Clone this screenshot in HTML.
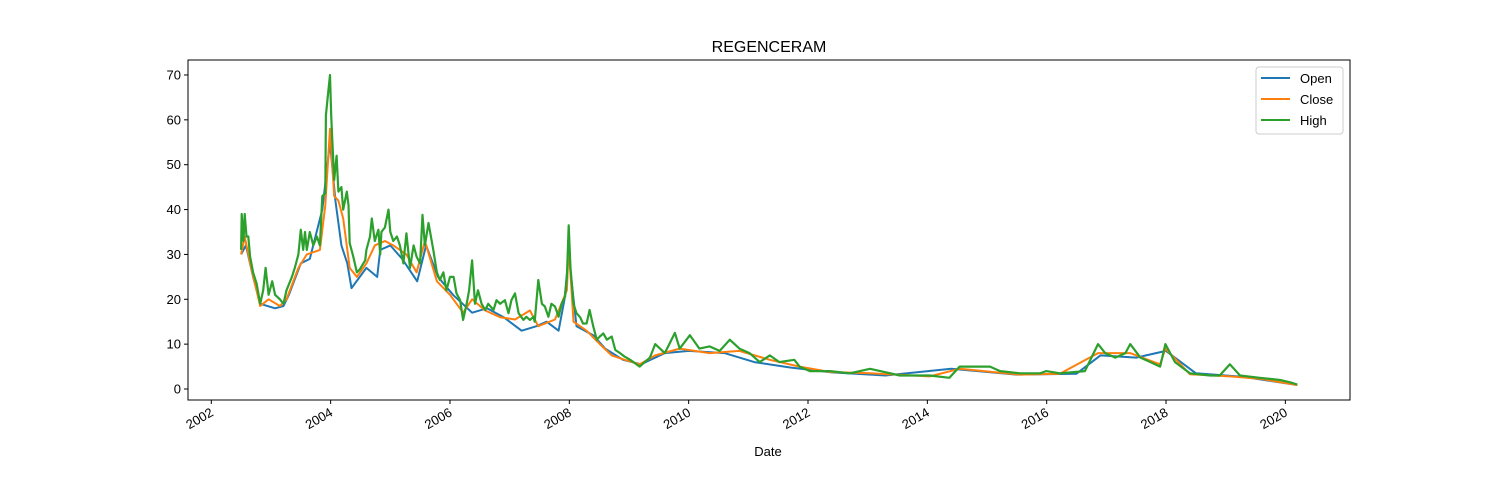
<!DOCTYPE html>
<html><head><meta charset="utf-8"><style>
html,body{margin:0;padding:0;background:#fff;}
svg{display:block;font-family:"Liberation Sans","DejaVu Sans",sans-serif;}
</style></head><body>
<svg id="chart" width="1500" height="500">
<text x="769" y="52" font-size="16" text-anchor="middle">REGENCERAM</text>
<text x="768" y="456" font-size="13" text-anchor="middle">Date</text>
<g id="plot"></g>
<rect x="188" y="60" width="1162" height="340" fill="none" stroke="#000" stroke-width="1"/>
<g>
<rect x="1256" y="67" width="87" height="67" rx="3" fill="#fff" stroke="#ccc" stroke-width="1"/>
<line x1="1261" y1="78" x2="1290" y2="78" stroke="#1f77b4" stroke-width="2"/>
<text x="1300" y="83" font-size="13">Open</text>
<line x1="1261" y1="99" x2="1290" y2="99" stroke="#ff7f0e" stroke-width="2"/>
<text x="1300" y="104" font-size="13">Close</text>
<line x1="1261" y1="120" x2="1290" y2="120" stroke="#2ca02c" stroke-width="2"/>
<text x="1300" y="125" font-size="13">High</text>
</g>
</svg>
<script>
const yTicks=[0,10,20,30,40,50,60,70];
const xTicks=[2002,2004,2006,2008,2010,2012,2014,2016,2018,2020];
const highDates=[2002.50,2002.51,2002.54,2002.56,2002.59,2002.62,2002.65,2002.70,2002.76,2002.82,2002.87,2002.91,2002.96,2003.02,2003.07,2003.15,2003.21,2003.26,2003.35,2003.40,2003.46,2003.50,2003.54,2003.57,2003.60,2003.65,2003.71,2003.77,2003.82,2003.86,2003.91,2003.92,2003.95,2003.99,2004.01,2004.03,2004.06,2004.10,2004.13,2004.18,2004.21,2004.27,2004.30,2004.32,2004.38,2004.44,2004.49,2004.58,2004.60,2004.66,2004.69,2004.74,2004.80,2004.83,2004.85,2004.91,2004.97,2005.00,2005.05,2005.11,2005.16,2005.22,2005.27,2005.33,2005.39,2005.44,2005.50,2005.54,2005.58,2005.64,2005.66,2005.72,2005.78,2005.83,2005.89,2005.94,2006.00,2006.06,2006.11,2006.17,2006.22,2006.28,2006.32,2006.37,2006.42,2006.47,2006.53,2006.59,2006.64,2006.73,2006.78,2006.84,2006.92,2006.98,2007.03,2007.09,2007.15,2007.23,2007.28,2007.34,2007.40,2007.42,2007.48,2007.54,2007.59,2007.65,2007.70,2007.76,2007.82,2007.87,2007.93,2007.96,2007.99,2008.02,2008.07,2008.12,2008.18,2008.23,2008.29,2008.34,2008.40,2008.46,2008.51,2008.57,2008.63,2008.71,2008.77,2008.85,2008.93,2009.02,2009.18,2009.35,2009.44,2009.60,2009.77,2009.85,2010.02,2010.18,2010.35,2010.52,2010.69,2010.85,2011.02,2011.19,2011.36,2011.52,2011.77,2011.86,2012.03,2012.37,2012.70,2013.04,2013.54,2014.04,2014.37,2014.54,2015.05,2015.22,2015.55,2015.89,2015.99,2016.22,2016.64,2016.86,2016.98,2017.15,2017.32,2017.40,2017.57,2017.74,2017.90,2017.99,2018.15,2018.40,2018.74,2018.90,2019.07,2019.24,2019.57,2019.91,2020.08,2020.20];
const highValues=[31,39,33,39,34,34,29.5,26,23.5,19,22,27,21,24,21,20,19,22,25,27,30,35.5,31,35,31,35,32,34,32,43,43.6,61,65,70,61,55,46.6,52,44,45,40,44,41,32.5,29.5,26,26.7,28.7,31,34,38,33,35.5,30,35,36,40,35,33,34,32,28,34.7,27,32,29.5,28,38.8,32,37,35.5,31,26,24.3,26,22,25,25,21.3,19.8,15.4,19,22,28.7,19,22,19,17.6,19,17.6,19.8,19,19.8,16.9,19.8,21.3,16.9,15.4,16.1,15.4,16.1,15,24.3,19,18.4,16.1,19,18.4,16.1,19,20.6,25,36.5,27,19,16.9,16,14.6,14.6,17.6,14,11,11.7,12.4,11,11.7,8.7,8,7.2,6.5,5,7,10,8,12.5,9,12,9,9.5,8.5,11,9,8,6,7.5,6,6.5,5,4,4,3.5,4.5,3,3,2.5,5,5,4,3.5,3.5,4,3.5,4,10,8,7,8,10,7,6,5,10,6,3.5,3,3,5.5,3,2.5,2,1.5,1];
const closeDates=[2002.50,2002.56,2002.65,2002.82,2002.96,2003.15,2003.26,2003.46,2003.60,2003.82,2003.91,2003.99,2004.06,2004.13,2004.21,2004.32,2004.44,2004.60,2004.74,2004.91,2005.05,2005.27,2005.44,2005.58,2005.78,2006.00,2006.22,2006.37,2006.59,2006.84,2007.09,2007.34,2007.48,2007.76,2007.96,2007.99,2008.07,2008.29,2008.51,2008.71,2008.93,2009.18,2009.44,2009.85,2010.35,2010.85,2011.36,2011.86,2012.37,2013.04,2014.04,2014.54,2015.55,2016.22,2016.86,2017.40,2017.90,2017.99,2018.40,2019.07,2019.57,2020.20];
const closeValues=[30,34,28,18.5,20,18.5,20,27,30,31,41,58,43,42,38,27,25,28,32,33,32,30,26,33,24,21,17,20,17.5,16,15.5,17.5,14,15.5,22,32,15,13,10,7.5,6.5,5.5,7.5,9,8,8.5,6.5,5,3.8,3.5,2.8,4.5,3.2,3.4,8,8,5.5,9,3.3,2.8,2.3,0.9];
const openDates=[2002.50,2002.58,2002.70,2002.82,2003.07,2003.21,2003.30,2003.50,2003.65,2003.86,2003.99,2004.08,2004.18,2004.28,2004.35,2004.60,2004.78,2004.83,2005.00,2005.20,2005.45,2005.60,2005.80,2006.05,2006.37,2006.62,2006.90,2007.20,2007.45,2007.62,2007.82,2007.92,2007.99,2008.12,2008.40,2008.60,2008.90,2009.20,2009.60,2010.00,2010.60,2011.10,2011.70,2012.40,2013.30,2014.40,2015.50,2016.50,2016.90,2017.50,2018.00,2018.50,2019.30,2020.20];
const openValues=[30,32,25,19,18,18.5,21,28,29,40,55,42,32,28,22.5,27,25,31,32,29,24,32,25,21,17,18,16,13,14,15,13,20,30,14,12,9,6.5,5.5,8,8.5,8,6,4.8,3.7,3,4.5,3.2,3.4,7.5,7,8.5,3.5,2.7,0.9];
const X0=188,X1=1350,Y0=60,Y1=400;
function xs(y){return 211.3+(y-2002)*59.67;}
function ys(v){return 389-v*4.486;}
const svg=document.getElementById('chart');
const plot=document.getElementById('plot');
const NS='http://www.w3.org/2000/svg';
function mk(t,a){const e=document.createElementNS(NS,t);for(const k in a)e.setAttribute(k,a[k]);return e;}
yTicks.forEach(v=>{
  const l=mk('line',{x1:X0-4,x2:X0,y1:ys(v),y2:ys(v),stroke:'#000'});
  
  
  svg.appendChild(l);
  const t=mk('text',{x:X0-7,y:ys(v)+4.5,'font-size':13,'text-anchor':'end'});
  t.textContent=v;
  
  
  svg.appendChild(t);
});
xTicks.forEach(v=>{
  const x=xs(v);
  const l=mk('line',{x1:x,x2:x,y1:Y1,y2:Y1+4,stroke:'#000'});
  
  
  svg.appendChild(l);
  const t=mk('text',{x:x+3,y:Y1+15,'font-size':13,'text-anchor':'end',transform:'rotate(-30 '+(x+3)+' '+(Y1+15)+')'});
  t.textContent=v;
  
  
  svg.appendChild(t);
});
function series(d,v,c,name,w){
  const pts=d.map((y,i)=>xs(y).toFixed(1)+','+ys(v[i]).toFixed(1)).join(' ');
  const p=mk('polyline',{points:pts,fill:'none',stroke:c,'stroke-width':w,'stroke-linejoin':'round'});
  
  
  plot.appendChild(p);
}
series(openDates,openValues,'#1f77b4','open-line',2);
series(closeDates,closeValues,'#ff7f0e','close-line',2);
series(highDates,highValues,'#2ca02c','high-line',2.2);
</script>
</body></html>
